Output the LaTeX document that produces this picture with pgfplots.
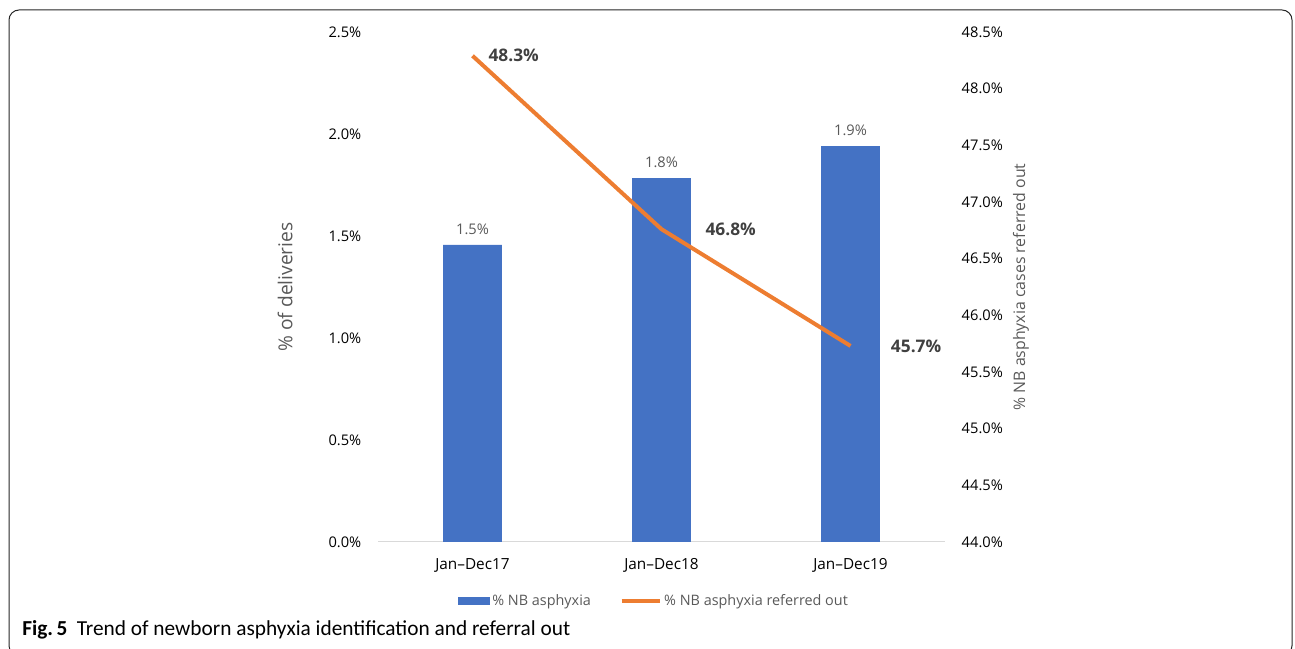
\documentclass[border=0pt]{standalone}
\usepackage{pgfplots}
\pgfplotsset{compat=1.18}
\usepackage{pgfplotstable}
\usepackage{fontspec}
\setmainfont{Open Sans}
\newfontfamily\capfont{Carlito}
\definecolor{barblue}{HTML}{4472C4}
\definecolor{lineor}{HTML}{ED7D31}
\definecolor{lblgray}{HTML}{595959}
\definecolor{dgray}{HTML}{404040}
\definecolor{axgray}{HTML}{D9D9D9}

\pgfplotstableread{
x y
0 1.456
1 1.784
2 1.941
}\bardata
\pgfplotstableread{
x y dx
0 48.29 7.2
1 46.76 28.2
2 45.73 25.5
}\linedata

\begin{document}
\begin{tikzpicture}
\useasboundingbox (0,0) rectangle (971.25pt,486.75pt);
\draw[rounded corners=7.5pt, line width=0.75pt, black!85] (6.75pt,-5pt) rectangle (969pt,479.25pt);
\begin{axis}[
  at={(283.5pt,80.25pt)}, anchor=south west,
  width=425.25pt, height=382.5pt, scale only axis,
  xmin=-0.5, xmax=2.5,
  ymin=0, ymax=2.5,
  xtick=data, xticklabels={Jan--Dec17,Jan--Dec18,Jan--Dec19},
  ytick={0,0.5,...,2.5},
  yticklabel={\pgfmathprintnumber[fixed,fixed zerofill,precision=1]{\tick}\%},
  /pgf/number format/assume math mode=true,
  major tick length=0pt,
  axis x line*=bottom, axis y line*=left,
  y axis line style={draw=none},
  x axis line style={draw=axgray, line width=0.75pt, -},
  yticklabel style={font=\fontsize{11pt}{13pt}\selectfont, text=black, xshift=-9pt},
  xticklabel style={font=\fontsize{11.5pt}{13pt}\selectfont, text=black, yshift=-9pt},
  ylabel={\% of deliveries},
  ylabel style={at={(axis description cs:-0.164,0.5)}, anchor=center, font=\fontsize{14.4pt}{16pt}\selectfont, text=lblgray},
  legend style={at={(0.487,-0.1157)}, anchor=center, draw=none, fill=none,
    legend columns=2, font=\fontsize{10.8pt}{12pt}\selectfont, text=lblgray,
    /tikz/every even column/.append style={column sep=20pt},
    inner sep=0pt, nodes={inner sep=1.5pt}},
]
\addplot[ybar, bar width=0.31, fill=barblue, draw=none,
  nodes near coords={\pgfmathprintnumber[fixed,fixed zerofill,precision=1]{\pgfplotspointmeta}\%},
  nodes near coords style={font=\fontsize{11pt}{13pt}\selectfont, text=lblgray, yshift=4.5pt},
  legend image code/.code={\fill[barblue] (0pt,-3pt) rectangle (24pt,3pt);}
] table[x=x,y=y] {\bardata};
\addlegendentry{\% NB asphyxia}
\addlegendimage{lineor, line width=3pt, legend image code/.code={\draw[lineor, line width=3pt] (0pt,0pt) -- (29pt,0pt);}}
\addlegendentry{\% NB asphyxia referred out}
\end{axis}
\begin{axis}[
  at={(283.5pt,80.25pt)}, anchor=south west,
  width=425.25pt, height=382.5pt, scale only axis,
  xmin=-0.5, xmax=2.5,
  ymin=44, ymax=48.5,
  ytick={44,44.5,...,48.5},
  yticklabel={\pgfmathprintnumber[fixed,fixed zerofill,precision=1]{\tick}\%},
  /pgf/number format/assume math mode=true,
  major tick length=0pt,
  axis y line*=right, axis x line=none,
  y axis line style={draw=none},
  yticklabel style={font=\fontsize{11pt}{13pt}\selectfont, text=black, xshift=9pt},
  ylabel={\% NB asphyxia cases referred out},
  ylabel style={at={(axis description cs:1.134,0.5)}, anchor=center, rotate=0, font=\fontsize{11.9pt}{14pt}\selectfont, text=lblgray},
]
\addplot[lineor, line width=3pt, line join=round, mark=none,
  visualization depends on={\thisrow{dx} \as \dx},
  nodes near coords={\pgfmathprintnumber[fixed,fixed zerofill,precision=1]{\pgfplotspointmeta}\%},
  nodes near coords style={anchor=west, xshift=\dx pt, font=\bfseries\fontsize{13pt}{15pt}\selectfont, text=dgray}
] table[x=x,y=y] {\linedata};
\end{axis}
\node[anchor=base west, inner sep=0pt] at (16.5pt,9.75pt) {\capfont\fontsize{16pt}{18pt}\selectfont\textbf{Fig.\,5}\hspace{7pt}Trend of newborn asphyxia identification and referral out};
\end{tikzpicture}
\end{document}
